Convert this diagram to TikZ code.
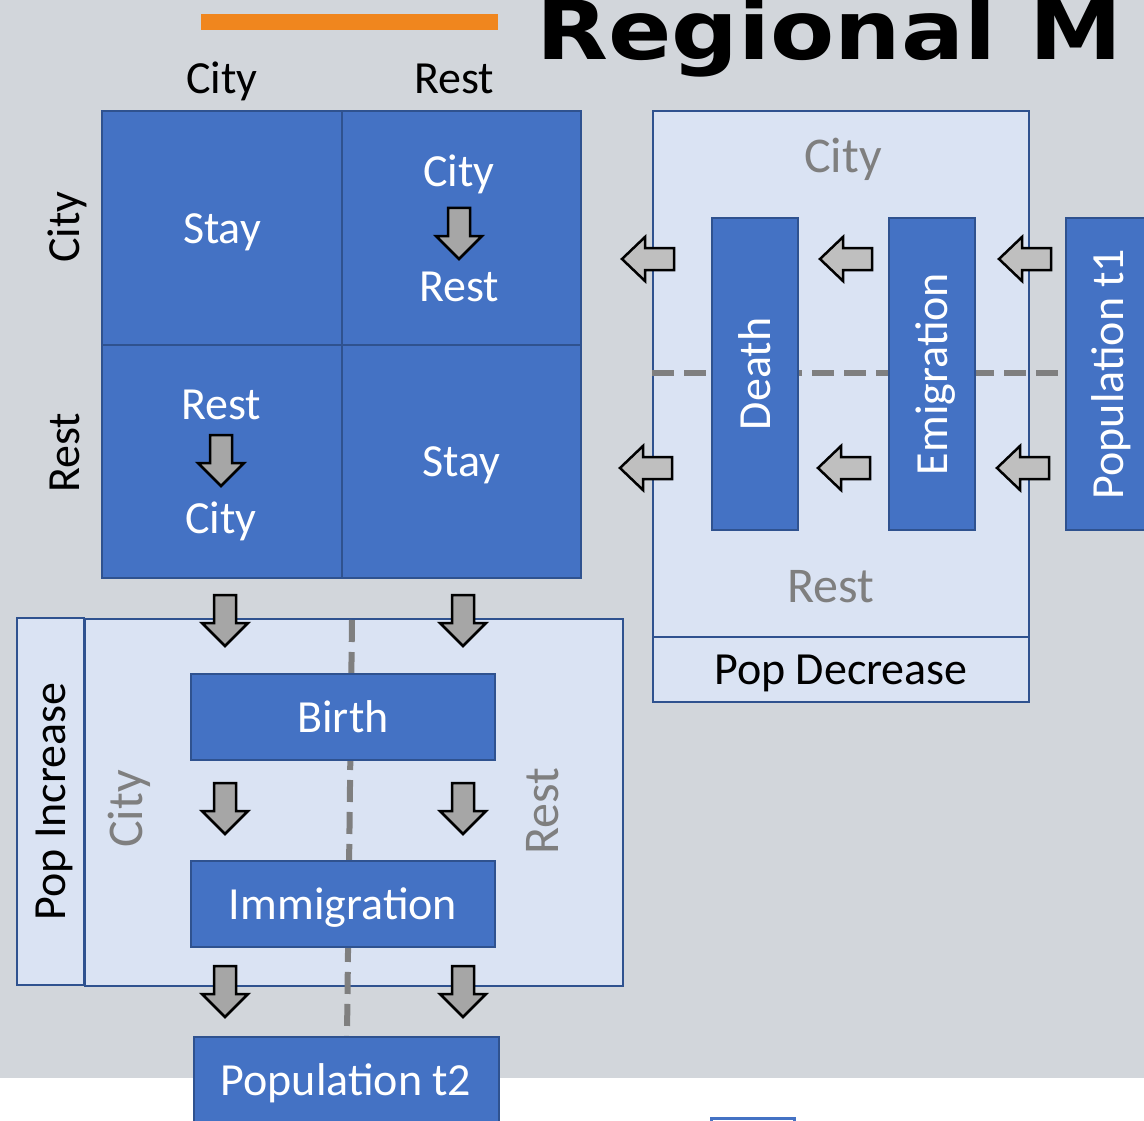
\documentclass[tikz,border=0pt]{standalone}
\usepackage{fontspec}
\setmainfont{Carlito}
\newfontfamily\titlefont{DejaVu Sans}
\definecolor{bg}{HTML}{D2D6DB}
\definecolor{boxblue}{HTML}{4472C4}
\definecolor{boxedge}{HTML}{2F528F}
\definecolor{lightbox}{HTML}{DAE3F3}
\definecolor{txtgray}{HTML}{7F7F7F}
\definecolor{arrgray}{HTML}{A6A6A6}
\definecolor{arrlight}{HTML}{BFBFBF}
\definecolor{orangebar}{HTML}{F0861E}
\tikzset{
  bluebox/.style={draw=boxedge, fill=boxblue, line width=2pt, text=white, inner sep=0pt,
    font=\fontsize{46}{50}\selectfont, text height=30pt, text depth=0pt},
  panel/.style={draw=boxedge, fill=lightbox, line width=2pt, inner sep=0pt,
    font=\fontsize{46}{50}\selectfont, text height=30pt, text depth=0pt},
  whitetext/.style={text=white, inner sep=0pt, font=\fontsize{46}{50}\selectfont},
  blacktext/.style={text=black, inner sep=0pt, font=\fontsize{46}{50}\selectfont},
  graytext/.style={text=txtgray, inner sep=0pt, font=\fontsize{50}{54}\selectfont},
  dashline/.style={draw=txtgray, line width=6pt, dash pattern=on 22pt off 10pt},
  downarr/.pic={\draw[line width=2.5pt, fill=arrgray, line join=miter]
    (-11,0) -- (11,0) -- (11,28) -- (23,28) -- (0,51) -- (-23,28) -- (-11,28) -- cycle;},
  leftarr/.pic={\draw[line width=2.5pt, fill=arrlight, line join=miter]
    (0,-11) -- (0,11) -- (-29,11) -- (-29,22) -- (-52,0) -- (-29,-22) -- (-29,-11) -- cycle;}
}
\begin{document}
\begin{tikzpicture}[x=1pt,y=-1pt]
\useasboundingbox (0,0) rectangle (1144,1121);
\clip (0,0) rectangle (1144,1121);
\fill[bg] (0,0) rectangle (1144,1078);
\fill[white] (0,1078) rectangle (1144,1121);

% title and bar
\node[fill=orangebar, minimum width=297pt, minimum height=16pt, inner sep=0pt, anchor=north west] (bar) at (201,14) {};
\node[anchor=base west, inner sep=0pt, xscale=1.14, font=\titlefont\bfseries\fontsize{82}{90}\selectfont] (title) at (536,60) {Regional M};

% column and row labels
\node[blacktext, anchor=base] (colcity) at (222,94) {City};
\node[blacktext, anchor=base] (colrest) at (454,94) {Rest};
\node[blacktext, anchor=base, rotate=90] (rowcity) at (79,227) {City};
\node[blacktext, anchor=base, rotate=90] (rowrest) at (79,453) {Rest};

% matrix
\node[bluebox, minimum width=240pt, minimum height=234pt, anchor=north west] (tl) at (101,110) {Stay};
\node[bluebox, minimum width=239pt, minimum height=234pt, anchor=north west] (tr) at (341,110) {};
\node[bluebox, minimum width=240pt, minimum height=233pt, anchor=north west] (bl) at (101,344) {};
\node[bluebox, minimum width=239pt, minimum height=233pt, anchor=north west] (br) at (341,344) {Stay};
\node[whitetext, anchor=base] (trcity) at (459,186) {City};
\pic at (459,208) {downarr};
\node[whitetext, anchor=base] (trrest) at (459,301) {Rest};
\node[whitetext, anchor=base] (blrest) at (221,419) {Rest};
\pic at (221,435) {downarr};
\node[whitetext, anchor=base] (blcity) at (221,533) {City};

% right panel (population decrease)
\node[panel, minimum width=376pt, minimum height=526pt, anchor=north west] (decarea) at (652,110) {};
\node[panel, minimum width=376pt, minimum height=65pt, anchor=north west] (popdec) at (652,636) {Pop Decrease};
\node[graytext, anchor=base] (deccity) at (843,173) {City};
\node[graytext, anchor=base] (decrest) at (831,602) {Rest};
\coordinate (hdash1) at (652,373);
\coordinate (hdash2) at (1062,373);
\draw[dashline] (hdash1) -- (hdash2);
\node[bluebox, rotate=90, minimum width=312pt, minimum height=86pt] (death) at (755,374) {Death};
\node[bluebox, rotate=90, minimum width=312pt, minimum height=86pt] (emig) at (932,374) {Emigration};
\node[bluebox, rotate=90, minimum width=312pt, minimum height=84pt] (pop1) at (1108,374) {Population t1};
\pic at (674,259) {leftarr};
\pic at (872,259) {leftarr};
\pic at (1051,259) {leftarr};
\pic at (672,468) {leftarr};
\pic at (870,468) {leftarr};
\pic at (1049,468) {leftarr};

% bottom panel (population increase)
\node[panel, rotate=90, minimum width=367pt, minimum height=67pt] (popinc) at (50.5,801.5) {Pop Increase};
\node[panel, minimum width=538pt, minimum height=367pt, anchor=north west] (incarea) at (84,618) {};
\node[graytext, anchor=base, rotate=90] (inccity) at (142,809) {City};
\node[graytext, anchor=base, rotate=90] (increst) at (558,811) {Rest};
\coordinate (vdash1) at (352,620);
\coordinate (vdash2) at (347,1036);
\draw[dashline] (vdash1) -- (vdash2);
\node[bluebox, minimum width=304pt, minimum height=86pt, anchor=north west] (birth) at (190,673) {Birth};
\node[bluebox, minimum width=304pt, minimum height=86pt, anchor=north west] (immig) at (190,860) {Immigration};
\node[bluebox, minimum width=305pt, minimum height=120pt, anchor=north west] (pop2) at (193,1036) {};
\node[whitetext, anchor=base] (pop2text) at (346,1095) {Population t2};
\pic at (225,595) {downarr};
\pic at (463,595) {downarr};
\pic at (225,783) {downarr};
\pic at (463,783) {downarr};
\pic at (225,966) {downarr};
\pic at (463,966) {downarr};

% next box peeking in at bottom
\node[draw=boxblue, fill=white, line width=2.5pt, minimum width=83pt, minimum height=40pt, inner sep=0pt, anchor=north west] (nextbox) at (710,1117) {};
\end{tikzpicture}
\end{document}
